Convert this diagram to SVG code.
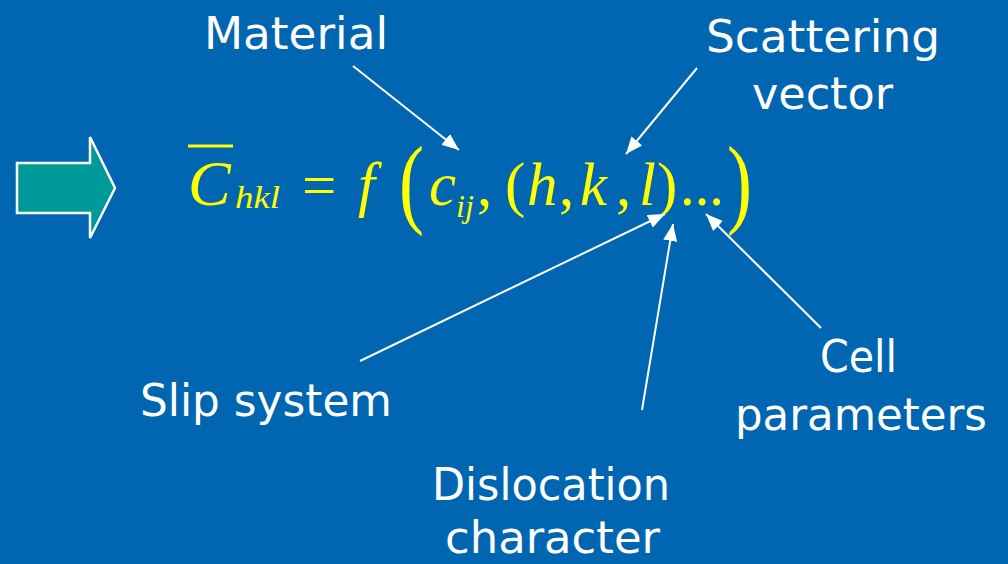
<svg xmlns="http://www.w3.org/2000/svg" width="1008" height="564" viewBox="0 0 1008 564">
<defs>
<style>
.lbl{font-family:"DejaVu Sans","Open Sans",sans-serif;font-size:44px;fill:#ffffff}
.m{font-family:"Liberation Serif","Times New Roman",serif;fill:#ffff00;font-size:61px}
.i{font-style:italic}
.big{font-size:100px}
.sub{font-size:32px}
.con{stroke:#ffffff;stroke-width:2;fill:none;marker-end:url(#ah)}
</style>
<marker id="ah" markerUnits="userSpaceOnUse" markerWidth="18" markerHeight="14" refX="17" refY="7" orient="auto">
<path d="M0,0 L17,7 L0,14 z" fill="#ffffff"/>
</marker>
</defs>
<rect x="0" y="0" width="1008" height="564" fill="#0066b2"/>
<g id="block-arrow">
<polygon points="17,163 90,163 90,137 115,188 90,238 90,213 17,213" fill="#009999" stroke="#ffffff" stroke-width="2.5"/>
</g>
<g id="formula">
<line x1="188" y1="146" x2="233" y2="146" stroke="#ffff00" stroke-width="3"/>
<text class="m i" x="188" y="205" style="font-size:64px">C</text>
<text class="m i sub" x="235" y="208" textLength="45" lengthAdjust="spacingAndGlyphs">hkl</text>
<text class="m" x="302" y="206">=</text>
<text class="m i" x="358" y="205">f</text>
<text class="m big" x="399" y="215" transform="translate(399 0) scale(0.75 1) translate(-399 0)">(</text>
<text class="m i" x="429" y="205">c</text>
<text class="m i sub" x="456" y="217">ij</text>
<text class="m" x="477" y="205">,</text>
<text class="m" x="505" y="205">(</text>
<text class="m i" x="527" y="205">h</text>
<text class="m" x="559" y="205">,</text>
<text class="m i" x="580" y="205">k</text>
<text class="m" x="616" y="205">,</text>
<text class="m i" x="639" y="205">l</text>
<text class="m" x="657" y="205">)</text>
<text class="m" x="680" y="205" textLength="44" lengthAdjust="spacingAndGlyphs">...</text>
<text class="m big" x="727" y="215" transform="translate(727 0) scale(0.75 1) translate(-727 0)">)</text>
</g>
<g id="material"><text class="lbl" x="204" y="49" textLength="184" lengthAdjust="spacingAndGlyphs">Material</text></g>
<g id="scattering-vector">
<text class="lbl" x="706" y="52" textLength="234" lengthAdjust="spacingAndGlyphs">Scattering</text>
<text class="lbl" x="752" y="109" textLength="141" lengthAdjust="spacingAndGlyphs">vector</text>
</g>
<g id="slip-system"><text class="lbl" x="140" y="416" textLength="252" lengthAdjust="spacingAndGlyphs">Slip system</text></g>
<g id="cell-parameters">
<text class="lbl" x="820" y="372" textLength="77" lengthAdjust="spacingAndGlyphs">Cell</text>
<text class="lbl" x="735" y="430" textLength="252" lengthAdjust="spacingAndGlyphs">parameters</text>
</g>
<g id="dislocation-character">
<text class="lbl" x="432" y="500" textLength="238" lengthAdjust="spacingAndGlyphs">Dislocation</text>
<text class="lbl" x="445" y="553" textLength="215" lengthAdjust="spacingAndGlyphs">character</text>
</g>
<g id="connectors">
<line class="con" x1="353" y1="66" x2="459" y2="150"/>
<line class="con" x1="697" y1="68" x2="626" y2="154"/>
<line class="con" x1="360" y1="361" x2="665" y2="214"/>
<line class="con" x1="642" y1="410" x2="673" y2="224"/>
<line class="con" x1="821" y1="328" x2="706" y2="214"/>
</g>
</svg>
